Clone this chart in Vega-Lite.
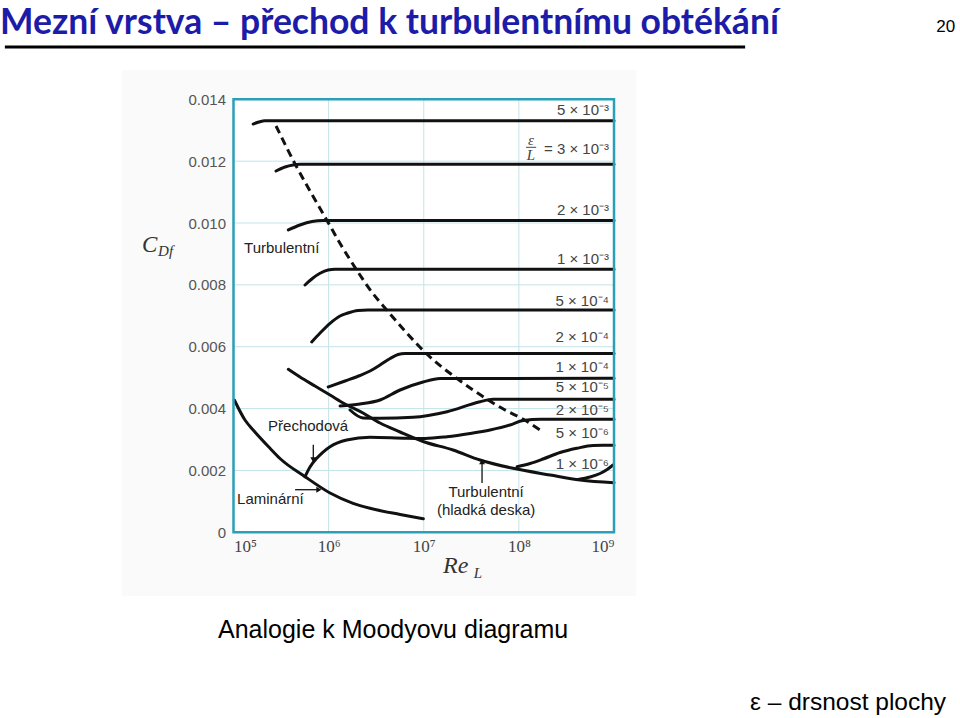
{
  "$schema": "https://vega.github.io/schema/vega-lite/v6.json",
  "width": 380.5,
  "height": 433,
  "autosize": {"type": "none"},
  "padding": {"left": 233.5, "top": 99.3, "right": 346, "bottom": 185.7},
  "background": "white",
  "config": {
    "view": {"stroke": null},
    "axis": {"grid": false, "domain": false, "ticks": false, "title": null}
  },
  "datasets": {
    "panel": [{"Re": 6730, "Re2": 1706000000, "Cdf": 0.014948, "Cdf2": -0.00206}],
    "plotbg": [{"Re": 100000, "Re2": 1000000000, "Cdf": 0, "Cdf2": 0.014}],
    "vgrid": [{"Re": 1000000}, {"Re": 10000000}, {"Re": 100000000}],
    "hgrid": [{"Cdf": 0.002}, {"Cdf": 0.004}, {"Cdf": 0.006}, {"Cdf": 0.008}, {"Cdf": 0.01}, {"Cdf": 0.012}],
    "curves": [
      {"c": "r5e3", "Re": 161000, "Cdf": 0.0132},
      {"c": "r5e3", "Re": 185000, "Cdf": 0.013266},
      {"c": "r5e3", "Re": 214000, "Cdf": 0.013308},
      {"c": "r5e3", "Re": 1000000000, "Cdf": 0.013308},
      {"c": "r3e3", "Re": 280000, "Cdf": 0.011682},
      {"c": "r3e3", "Re": 348000, "Cdf": 0.011811},
      {"c": "r3e3", "Re": 422000, "Cdf": 0.011876},
      {"c": "r3e3", "Re": 500000, "Cdf": 0.011899},
      {"c": "r3e3", "Re": 1000000000, "Cdf": 0.011899},
      {"c": "r2e3", "Re": 377000, "Cdf": 0.009775},
      {"c": "r2e3", "Re": 500000, "Cdf": 0.009936},
      {"c": "r2e3", "Re": 669000, "Cdf": 0.010049},
      {"c": "r2e3", "Re": 874000, "Cdf": 0.010082},
      {"c": "r2e3", "Re": 1000000000, "Cdf": 0.010082},
      {"c": "r1e3", "Re": 565000, "Cdf": 0.007996},
      {"c": "r1e3", "Re": 685000, "Cdf": 0.008222},
      {"c": "r1e3", "Re": 813000, "Cdf": 0.008374},
      {"c": "r1e3", "Re": 986000, "Cdf": 0.008481},
      {"c": "r1e3", "Re": 1167000, "Cdf": 0.008504},
      {"c": "r1e3", "Re": 1000000000, "Cdf": 0.008504},
      {"c": "r5e4", "Re": 664000, "Cdf": 0.006153},
      {"c": "r5e4", "Re": 813000, "Cdf": 0.006444},
      {"c": "r5e4", "Re": 1035000, "Cdf": 0.006758},
      {"c": "r5e4", "Re": 1318000, "Cdf": 0.006994},
      {"c": "r5e4", "Re": 1561000, "Cdf": 0.007081},
      {"c": "r5e4", "Re": 2037000, "Cdf": 0.007172},
      {"c": "r5e4", "Re": 2597000, "Cdf": 0.007188},
      {"c": "r5e4", "Re": 1000000000, "Cdf": 0.007188},
      {"c": "r2e4", "Re": 990000, "Cdf": 0.004698},
      {"c": "r2e4", "Re": 1487000, "Cdf": 0.004892},
      {"c": "r2e4", "Re": 2138000, "Cdf": 0.00507},
      {"c": "r2e4", "Re": 2725000, "Cdf": 0.005215},
      {"c": "r2e4", "Re": 3470000, "Cdf": 0.005409},
      {"c": "r2e4", "Re": 4430000, "Cdf": 0.00562},
      {"c": "r2e4", "Re": 5370000, "Cdf": 0.005749},
      {"c": "r2e4", "Re": 6360000, "Cdf": 0.005781},
      {"c": "r2e4", "Re": 1000000000, "Cdf": 0.005781},
      {"c": "r1e4", "Re": 1318000, "Cdf": 0.004084},
      {"c": "r1e4", "Re": 2138000, "Cdf": 0.004148},
      {"c": "r1e4", "Re": 3470000, "Cdf": 0.004278},
      {"c": "r1e4", "Re": 5640000, "Cdf": 0.004601},
      {"c": "r1e4", "Re": 9840000, "Cdf": 0.00486},
      {"c": "r1e4", "Re": 14840000, "Cdf": 0.004973},
      {"c": "r1e4", "Re": 1000000000, "Cdf": 0.004979},
      {"c": "r5e5", "Re": 1678000, "Cdf": 0.003954},
      {"c": "r5e5", "Re": 2300000, "Cdf": 0.003696},
      {"c": "r5e5", "Re": 3470000, "Cdf": 0.003686},
      {"c": "r5e5", "Re": 7710000, "Cdf": 0.003718},
      {"c": "r5e5", "Re": 17580000, "Cdf": 0.0039},
      {"c": "r5e5", "Re": 39100000, "Cdf": 0.004223},
      {"c": "r5e5", "Re": 53600000, "Cdf": 0.0043},
      {"c": "r5e5", "Re": 1000000000, "Cdf": 0.0043},
      {"c": "tr2e5", "Re": 565000, "Cdf": 0.001798},
      {"c": "tr2e5", "Re": 637000, "Cdf": 0.002111},
      {"c": "tr2e5", "Re": 750000, "Cdf": 0.002393},
      {"c": "tr2e5", "Re": 874000, "Cdf": 0.002596},
      {"c": "tr2e5", "Re": 1035000, "Cdf": 0.002768},
      {"c": "tr2e5", "Re": 1549000, "Cdf": 0.002984},
      {"c": "tr2e5", "Re": 2725000, "Cdf": 0.003072},
      {"c": "tr2e5", "Re": 6620000, "Cdf": 0.003039},
      {"c": "tr2e5", "Re": 10320000, "Cdf": 0.003033},
      {"c": "tr2e5", "Re": 17580000, "Cdf": 0.003091},
      {"c": "tr2e5", "Re": 30700000, "Cdf": 0.003195},
      {"c": "tr2e5", "Re": 49800000, "Cdf": 0.003308},
      {"c": "tr2e5", "Re": 80700000, "Cdf": 0.003469},
      {"c": "tr2e5", "Re": 110700000, "Cdf": 0.003615},
      {"c": "tr2e5", "Re": 171000000, "Cdf": 0.003654},
      {"c": "tr2e5", "Re": 1000000000, "Cdf": 0.003654},
      {"c": "smooth", "Re": 377000, "Cdf": 0.00527},
      {"c": "smooth", "Re": 500000, "Cdf": 0.005021},
      {"c": "smooth", "Re": 719000, "Cdf": 0.00473},
      {"c": "smooth", "Re": 1035000, "Cdf": 0.004439},
      {"c": "smooth", "Re": 1487000, "Cdf": 0.004148},
      {"c": "smooth", "Re": 2300000, "Cdf": 0.003857},
      {"c": "smooth", "Re": 3470000, "Cdf": 0.003534},
      {"c": "smooth", "Re": 5640000, "Cdf": 0.003243},
      {"c": "smooth", "Re": 9840000, "Cdf": 0.002936},
      {"c": "smooth", "Re": 20300000, "Cdf": 0.002661},
      {"c": "smooth", "Re": 39100000, "Cdf": 0.002338},
      {"c": "smooth", "Re": 86900000, "Cdf": 0.002069},
      {"c": "smooth", "Re": 213000000, "Cdf": 0.001853},
      {"c": "smooth", "Re": 440000000, "Cdf": 0.001691},
      {"c": "smooth", "Re": 1000000000, "Cdf": 0.001604},
      {"c": "laminar", "Re": 102000, "Cdf": 0.004278},
      {"c": "laminar", "Re": 132000, "Cdf": 0.003631},
      {"c": "laminar", "Re": 161000, "Cdf": 0.003308},
      {"c": "laminar", "Re": 242000, "Cdf": 0.002716},
      {"c": "laminar", "Re": 308000, "Cdf": 0.002386},
      {"c": "laminar", "Re": 565000, "Cdf": 0.001798},
      {"c": "laminar", "Re": 1035000, "Cdf": 0.001271},
      {"c": "laminar", "Re": 1806000, "Cdf": 0.000938},
      {"c": "laminar", "Re": 2725000, "Cdf": 0.000776},
      {"c": "laminar", "Re": 5640000, "Cdf": 0.000576},
      {"c": "laminar", "Re": 9900000, "Cdf": 0.000437},
      {"c": "r5e6", "Re": 95700000, "Cdf": 0.00212},
      {"c": "r5e6", "Re": 131200000, "Cdf": 0.002225},
      {"c": "r5e6", "Re": 179600000, "Cdf": 0.00237},
      {"c": "r5e6", "Re": 271000000, "Cdf": 0.00258},
      {"c": "r5e6", "Re": 406000000, "Cdf": 0.002716},
      {"c": "r5e6", "Re": 603000000, "Cdf": 0.002807},
      {"c": "r5e6", "Re": 768000000, "Cdf": 0.002813},
      {"c": "r5e6", "Re": 1000000000, "Cdf": 0.002813},
      {"c": "r1e6", "Re": 419000000, "Cdf": 0.001707},
      {"c": "r1e6", "Re": 560000000, "Cdf": 0.001788},
      {"c": "r1e6", "Re": 714000000, "Cdf": 0.001901},
      {"c": "r1e6", "Re": 847000000, "Cdf": 0.00203},
      {"c": "r1e6", "Re": 977000000, "Cdf": 0.002176}
    ],
    "dashed": [
      {"Re": 280000, "Cdf": 0.013137},
      {"Re": 444000, "Cdf": 0.011908},
      {"Re": 637000, "Cdf": 0.011035},
      {"Re": 955000, "Cdf": 0.010098},
      {"Re": 1349000, "Cdf": 0.009289},
      {"Re": 1972000, "Cdf": 0.008481},
      {"Re": 2790000, "Cdf": 0.007802},
      {"Re": 4080000, "Cdf": 0.007188},
      {"Re": 6210000, "Cdf": 0.006541},
      {"Re": 10770000, "Cdf": 0.005765},
      {"Re": 22200000, "Cdf": 0.004979},
      {"Re": 45900000, "Cdf": 0.00431},
      {"Re": 71600000, "Cdf": 0.003954},
      {"Re": 111400000, "Cdf": 0.003654},
      {"Re": 167200000, "Cdf": 0.003308}
    ],
    "rough": [
      {"Re": 1000000000, "Cdf": 0.013638, "t": "5 × 10⁻³"},
      {"Re": 1000000000, "Cdf": 0.012384, "t": "= 3 × 10⁻³"},
      {"Re": 1000000000, "Cdf": 0.010421, "t": "2 × 10⁻³"},
      {"Re": 1000000000, "Cdf": 0.008827, "t": "1 × 10⁻³"},
      {"Re": 1000000000, "Cdf": 0.007479, "t": "5 × 10⁻⁴"},
      {"Re": 1000000000, "Cdf": 0.006305, "t": "2 × 10⁻⁴"},
      {"Re": 1000000000, "Cdf": 0.005354, "t": "1 × 10⁻⁴"},
      {"Re": 1000000000, "Cdf": 0.004708, "t": "5 × 10⁻⁵"},
      {"Re": 1000000000, "Cdf": 0.003954, "t": "2 × 10⁻⁵"},
      {"Re": 1000000000, "Cdf": 0.00322, "t": "5 × 10⁻⁶"},
      {"Re": 1000000000, "Cdf": 0.002208, "t": "1 × 10⁻⁶"}
    ],
    "frac": [
      {"Re": 134000000, "Cdf": 0.012668, "t": "ε"},
      {"Re": 134000000, "Cdf": 0.012198, "t": "L"}
    ],
    "fracbar": [
      {"Re": 119000000, "Re2": 152000000, "Cdf": 0.012448}
    ],
    "notes": [
      {"Re": 129000, "Cdf": 0.009192, "t": "Turbulentní"},
      {"Re": 231000, "Cdf": 0.003437, "t": "Přechodová"},
      {"Re": 109000, "Cdf": 0.001077, "t": "Laminární"}
    ],
    "notes2": [
      {"Re": 45200000, "Cdf": 0.001303, "t": "Turbulentní"},
      {"Re": 45200000, "Cdf": 0.000721, "t": "(hladká deska)"}
    ],
    "arrows": [
      {"Re": 690000, "Re2": 690000, "Cdf": 0.002829, "Cdf2": 0.00237},
      {"Re": 444000, "Re2": 780000, "Cdf": 0.001377, "Cdf2": 0.001377},
      {"Re": 41000000, "Re2": 41000000, "Cdf": 0.001594, "Cdf2": 0.00225}
    ],
    "headDown": [{"Re": 690000, "Cdf": 0.00234}],
    "headRight": [{"Re": 790000, "Cdf": 0.001377}],
    "headUp": [{"Re": 41000000, "Cdf": 0.00228}],
    "frame": [{"Re": 100000, "Re2": 1000000000, "Cdf": 0, "Cdf2": 0.014}],
    "ytitle": [{"Re": 10900, "Cdf": 0.009289, "t": "C"}],
    "ysub": [{"Re": 16100, "Cdf": 0.009095, "t": "Df"}],
    "xtitle": [{"Re": 15960000, "Cdf": -0.00109, "t": "Re"}],
    "xsub": [{"Re": 33500000, "Cdf": -0.00131, "t": "L"}],
    "heading": [{"Re": 351, "Cdf": 0.016112, "t": "Mezní vrstva – přechod k turbulentnímu obtékání"}],
    "underline": [{"Re": 395, "Re2": 23900000000, "Cdf": 0.015691}],
    "pageno": [{"Re": 2440000000000, "Cdf": 0.016338, "t": "20"}],
    "caption": [{"Re": 68700, "Cdf": -0.003159, "t": "Analogie k Moodyovu diagramu"}],
    "eps": [{"Re": 3100000000000, "Cdf": -0.005519, "t": "ε – drsnost plochy"}]
  },
  "encoding": {
    "x": {
      "field": "Re", "type": "quantitative",
      "scale": {"type": "log", "domain": [100000, 1000000000], "nice": false},
      "axis": {
        "values": [100000, 1000000, 10000000, 100000000, 1000000000],
        "labelExpr": "'10' + ['⁰','¹','²','³','⁴','⁵','⁶','⁷','⁸','⁹'][round(log(datum.value)/LN10)]",
        "labelFont": "Liberation Serif", "labelFontSize": 17, "labelColor": "#444", "labelPadding": 6, "title": null, "zindex": 2
      }
    },
    "y": {
      "field": "Cdf", "type": "quantitative",
      "scale": {"domain": [0, 0.014], "nice": false},
      "axis": {
        "values": [0, 0.002, 0.004, 0.006, 0.008, 0.01, 0.012, 0.014],
        "labelExpr": "datum.value == 0 ? '0' : format(datum.value, '.3f')",
        "labelFont": "Liberation Sans", "labelFontSize": 15, "labelColor": "#555", "labelPadding": 8, "title": null, "zindex": 2
      }
    }
  },
  "layer": [
    {"data": {"name": "panel"}, "mark": {"type": "rect", "fill": "#fafafa", "stroke": null}, "encoding": {"x2": {"field": "Re2"}, "y2": {"field": "Cdf2"}}},
    {"data": {"name": "plotbg"}, "mark": {"type": "rect", "fill": "#ffffff", "stroke": null}, "encoding": {"x2": {"field": "Re2"}, "y2": {"field": "Cdf2"}}},
    {"data": {"name": "vgrid"}, "mark": {"type": "rule", "color": "#c4e3e9", "strokeWidth": 1}, "encoding": {"y": null}},
    {"data": {"name": "hgrid"}, "mark": {"type": "rule", "color": "#c4e3e9", "strokeWidth": 1}, "encoding": {"x": null}},
    {"data": {"name": "curves"}, "mark": {"type": "line", "color": "#111", "strokeWidth": 3, "strokeCap": "round", "interpolate": "monotone"}, "encoding": {"detail": {"field": "c"}}},
    {"data": {"name": "dashed"}, "mark": {"type": "line", "color": "#111", "strokeWidth": 3, "strokeDash": [8, 5], "interpolate": "monotone"}, "encoding": {}},
    {"data": {"name": "rough"}, "mark": {"type": "text", "align": "right", "baseline": "middle", "dx": -5, "font": "Liberation Sans", "fontSize": 15, "color": "#444"}, "encoding": {"text": {"field": "t"}}},
    {"data": {"name": "frac"}, "mark": {"type": "text", "align": "center", "baseline": "middle", "font": "Liberation Serif", "fontStyle": "italic", "fontSize": 15, "color": "#444"}, "encoding": {"text": {"field": "t"}}},
    {"data": {"name": "fracbar"}, "mark": {"type": "rule", "color": "#444", "strokeWidth": 1}, "encoding": {"x2": {"field": "Re2"}}},
    {"data": {"name": "notes"}, "mark": {"type": "text", "align": "left", "baseline": "middle", "font": "Liberation Sans", "fontSize": 15, "color": "#222"}, "encoding": {"text": {"field": "t"}}},
    {"data": {"name": "notes2"}, "mark": {"type": "text", "align": "center", "baseline": "middle", "font": "Liberation Sans", "fontSize": 15, "color": "#222"}, "encoding": {"text": {"field": "t"}}},
    {"data": {"name": "arrows"}, "mark": {"type": "rule", "color": "#111", "strokeWidth": 1.3}, "encoding": {"x2": {"field": "Re2"}, "y2": {"field": "Cdf2"}}},
    {"data": {"name": "headDown"}, "mark": {"type": "point", "shape": "triangle-down", "filled": true, "color": "#111", "size": 35, "opacity": 1}, "encoding": {}},
    {"data": {"name": "headRight"}, "mark": {"type": "point", "shape": "triangle-right", "filled": true, "color": "#111", "size": 35, "opacity": 1}, "encoding": {}},
    {"data": {"name": "headUp"}, "mark": {"type": "point", "shape": "triangle-up", "filled": true, "color": "#111", "size": 35, "opacity": 1}, "encoding": {}},
    {"data": {"name": "frame"}, "mark": {"type": "rect", "fill": null, "fillOpacity": 0, "stroke": "#2a9fb7", "strokeWidth": 2.5}, "encoding": {"x2": {"field": "Re2"}, "y2": {"field": "Cdf2"}}},
    {"data": {"name": "ytitle"}, "mark": {"type": "text", "align": "left", "baseline": "middle", "font": "Liberation Serif", "fontStyle": "italic", "fontSize": 23, "color": "#333"}, "encoding": {"text": {"field": "t"}}},
    {"data": {"name": "ysub"}, "mark": {"type": "text", "align": "left", "baseline": "middle", "font": "Liberation Serif", "fontStyle": "italic", "fontSize": 15, "color": "#333"}, "encoding": {"text": {"field": "t"}}},
    {"data": {"name": "xtitle"}, "mark": {"type": "text", "align": "left", "baseline": "middle", "font": "Liberation Serif", "fontStyle": "italic", "fontSize": 24, "color": "#333"}, "encoding": {"text": {"field": "t"}}},
    {"data": {"name": "xsub"}, "mark": {"type": "text", "align": "left", "baseline": "middle", "font": "Liberation Serif", "fontStyle": "italic", "fontSize": 15, "color": "#333"}, "encoding": {"text": {"field": "t"}}},
    {"data": {"name": "heading"}, "mark": {"type": "text", "align": "left", "baseline": "alphabetic", "font": "Lato", "fontWeight": "bold", "fontSize": 35.5, "color": "#1c1ca8"}, "encoding": {"text": {"field": "t"}}},
    {"data": {"name": "underline"}, "mark": {"type": "rule", "color": "#000", "strokeWidth": 3}, "encoding": {"x2": {"field": "Re2"}}},
    {"data": {"name": "pageno"}, "mark": {"type": "text", "align": "left", "baseline": "middle", "font": "Liberation Sans", "fontSize": 17, "color": "#000"}, "encoding": {"text": {"field": "t"}}},
    {"data": {"name": "caption"}, "mark": {"type": "text", "align": "left", "baseline": "middle", "font": "Liberation Sans", "fontSize": 25, "color": "#000"}, "encoding": {"text": {"field": "t"}}},
    {"data": {"name": "eps"}, "mark": {"type": "text", "align": "right", "baseline": "middle", "font": "Liberation Sans", "fontSize": 24.5, "color": "#000"}, "encoding": {"text": {"field": "t"}}}
  ]
}
